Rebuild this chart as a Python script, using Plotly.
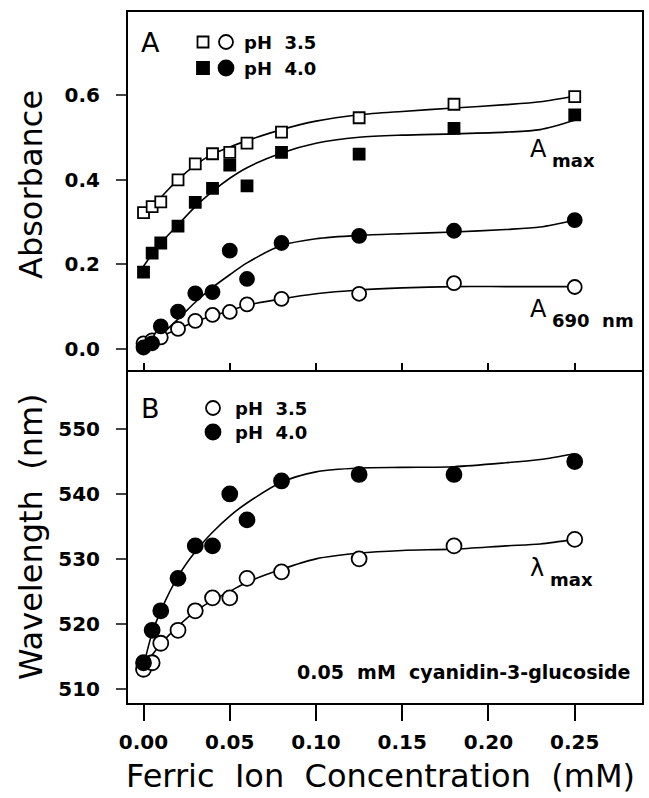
import plotly.graph_objects as go

# ---- data ----
conc = [0, 0.005, 0.01, 0.02, 0.03, 0.04, 0.05, 0.06, 0.08, 0.125, 0.18, 0.25]

amax_ph35 = [0.322, 0.336, 0.347, 0.399, 0.437, 0.461, 0.464, 0.486, 0.512, 0.546, 0.578, 0.596]
amax_ph40 = [0.181, 0.226, 0.250, 0.290, 0.346, 0.379, 0.434, 0.385, 0.464, 0.460, 0.521, 0.553]
a690_ph35 = [0.013, 0.020, 0.027, 0.047, 0.066, 0.080, 0.087, 0.105, 0.118, 0.130, 0.155, 0.146]
a690_ph40 = [0.003, 0.013, 0.053, 0.088, 0.131, 0.134, 0.232, 0.165, 0.250, 0.267, 0.279, 0.304]

wl_ph35 = [513, 514, 517, 519, 522, 524, 524, 527, 528, 530, 532, 533]
wl_ph40 = [514, 519, 522, 527, 532, 532, 540, 536, 542, 543, 543, 545]

# fitted curves
fit_x = [0, 0.005, 0.01, 0.02, 0.03, 0.04, 0.05, 0.06, 0.08, 0.10, 0.125, 0.15, 0.18, 0.21, 0.23, 0.25]
fit_amax_ph35 = [0.322, 0.340, 0.358, 0.400, 0.434, 0.460, 0.477, 0.492, 0.518, 0.538, 0.553, 0.561, 0.569, 0.577, 0.584, 0.597]
fit_amax_ph40 = [0.195, 0.224, 0.250, 0.293, 0.336, 0.372, 0.403, 0.428, 0.463, 0.486, 0.500, 0.505, 0.508, 0.512, 0.518, 0.540]
fit_a690_ph35 = [0.010, 0.020, 0.029, 0.047, 0.064, 0.078, 0.090, 0.103, 0.118, 0.130, 0.139, 0.144, 0.147, 0.147, 0.147, 0.147]
fit_a690_ph40 = [0.000, 0.015, 0.032, 0.070, 0.110, 0.145, 0.175, 0.203, 0.244, 0.260, 0.268, 0.272, 0.276, 0.282, 0.288, 0.304]
fit_wl_ph35 = [513.5, 515.2, 516.9, 519.6, 521.9, 523.6, 525.0, 526.4, 528.4, 530.0, 530.9, 531.3, 531.5, 532.0, 532.3, 533.0]
fit_wl_ph40 = [513.5, 518.6, 522.0, 527.3, 531.1, 534.1, 536.6, 538.6, 541.8, 543.4, 544.0, 544.1, 544.2, 544.8, 545.3, 546.2]

x_ticks = [0.00, 0.05, 0.10, 0.15, 0.20, 0.25]
x_ticklabels = ["0.00", "0.05", "0.10", "0.15", "0.20", "0.25"]
abs_ticks = [0.0, 0.2, 0.4, 0.6]
abs_ticklabels = ["0.0", "0.2", "0.4", "0.6"]
wl_ticks = [510, 520, 530, 540, 550]
wl_ticklabels = ["510", "520", "530", "540", "550"]

FONT = "DejaVu Sans"
BLACK = "black"
W, H = 649, 798
ML, MR, MT, MB = 128, 7, 12, 95

fig = go.Figure()

def line(x, y, ax):
    fig.add_trace(go.Scatter(x=x, y=y, mode="lines", xaxis="x" + ax, yaxis="y" + ax,
                             line=dict(color=BLACK, width=1.6, shape="spline", smoothing=0.8),
                             hoverinfo="skip", showlegend=False))

def pts(x, y, ax, symbol, size, filled):
    fig.add_trace(go.Scatter(x=x, y=y, mode="markers", xaxis="x" + ax, yaxis="y" + ax,
                             marker=dict(symbol=symbol, size=size,
                                         color=BLACK if filled else "white",
                                         line=dict(color=BLACK, width=1.8)),
                             showlegend=False))

# Panel A (top) -> axes x2 / y2
line(fit_x, fit_amax_ph35, "2")
line(fit_x, fit_amax_ph40, "2")
line(fit_x, fit_a690_ph35, "2")
line(fit_x, fit_a690_ph40, "2")
pts(conc, a690_ph35, "2", "circle", 14, False)
pts(conc, a690_ph40, "2", "circle", 14, True)
pts(conc, amax_ph35, "2", "square", 11, False)
pts(conc, amax_ph40, "2", "square", 11, True)

# Panel B (bottom) -> axes x / y
line(fit_x, fit_wl_ph35, "")
line(fit_x, fit_wl_ph40, "")
pts(conc, wl_ph35, "", "circle", 15, False)
pts(conc, wl_ph40, "", "circle", 15, True)

tickfont = dict(family=FONT, size=20, color=BLACK, weight="bold")
titlefont = dict(family=FONT, size=32, color=BLACK)

common_x = dict(range=[-0.009, 0.289], tickvals=x_ticks, showline=True, linecolor=BLACK,
                linewidth=2, showgrid=False, zeroline=False, tickwidth=1.5,
                tickcolor=BLACK, automargin=False)
common_y = dict(ticks="outside", ticklen=10, tickwidth=1.5, showline=True, linecolor=BLACK,
                linewidth=2, mirror=True, showgrid=False, zeroline=False, tickfont=tickfont,
                automargin=False, ticklabelstandoff=12)

fig.update_layout(
    width=W, height=H,
    margin=dict(l=ML, r=MR, t=MT, b=MB, autoexpand=False),
    paper_bgcolor="white", plot_bgcolor="white",
    showlegend=False,
    xaxis=dict(**common_x, domain=[0, 1], anchor="y", ticks="outside", ticklen=16,
               mirror=False, ticktext=x_ticklabels, tickfont=tickfont,
               ticklabelstandoff=4),
    xaxis2=dict(**common_x, domain=[0, 1], anchor="y2", ticks="inside", ticklen=7,
                mirror=True, showticklabels=False, matches="x"),
    yaxis=dict(**common_y, domain=[0, 0.482], anchor="x", range=[507.8, 559.1],
               tickvals=wl_ticks, ticktext=wl_ticklabels),
    yaxis2=dict(**common_y, domain=[0.482, 1], anchor="x2", range=[-0.05, 0.796],
                tickvals=abs_ticks, ticktext=abs_ticklabels),
)

plot_w = W - ML - MR
plot_h = H - MT - MB

def px(xp):
    return (xp - ML) / plot_w

def py(yp):
    return 1 - (yp - MT) / plot_h

ann_font = dict(family=FONT, size=18, color=BLACK, weight="bold")
big = dict(family=FONT, size=24, color=BLACK)
sub = dict(family=FONT, size=18, color=BLACK, weight="bold")
anns = [
    (140, 42, "A", dict(family=FONT, size=27, color=BLACK), "left", 0),
    (140, 408, "B", dict(family=FONT, size=27, color=BLACK), "left", 0),
    (243, 42, "pH\u00a0\u00a03.5", ann_font, "left", 0),
    (243, 68, "pH\u00a0\u00a04.0", ann_font, "left", 0),
    (234, 408, "pH\u00a0\u00a03.5", ann_font, "left", 0),
    (234, 432, "pH\u00a0\u00a04.0", ann_font, "left", 0),
    (529, 149, "A", big, "left", 0),
    (551, 161, "max", sub, "left", 0),
    (529, 309, "A", big, "left", 0),
    (551, 320, "690\u00a0\u00a0nm", sub, "left", 0),
    (529, 568, "λ", big, "left", 0),
    (549, 579, "max", sub, "left", 0),
    (631, 672, "0.05\u00a0\u00a0mM\u00a0\u00a0cyanidin-3-glucoside",
     dict(family=FONT, size=19, color=BLACK, weight="bold"), "right", 0),
    (31, 185, "Absorbance", titlefont, "center", -90),
    (31, 537, "Wavelength\u00a0\u00a0(nm)", titlefont, "center", -90),
    (380, 776, "Ferric\u00a0\u00a0Ion\u00a0\u00a0Concentration\u00a0\u00a0(mM)", titlefont, "center", 0),
]
for xp, yp, txt, f, anc, ang in anns:
    fig.add_annotation(x=px(xp), y=py(yp), xref="paper", yref="paper",
                       xanchor=anc, yanchor="middle", text=txt, showarrow=False, font=f,
                       textangle=ang, borderpad=0)

# legend symbols (paper coordinates)
def sym(cx, cy, kind, filled, r):
    fig.add_shape(type="rect" if kind == "sq" else "circle", xref="paper", yref="paper",
                  x0=px(cx - r), x1=px(cx + r), y0=py(cy + r), y1=py(cy - r),
                  line=dict(color=BLACK, width=1.8), fillcolor=BLACK if filled else "white")

sym(203, 42, "sq", False, 5.5)
sym(226, 42, "ci", False, 7)
sym(203, 68, "sq", True, 6)
sym(226, 68, "ci", True, 7.5)
sym(213, 408, "ci", False, 7)
sym(213, 432, "ci", True, 7.5)

fig.write_html("out.html", config={"displayModeBar": False},
               post_script="document.body.style.margin='0';")
